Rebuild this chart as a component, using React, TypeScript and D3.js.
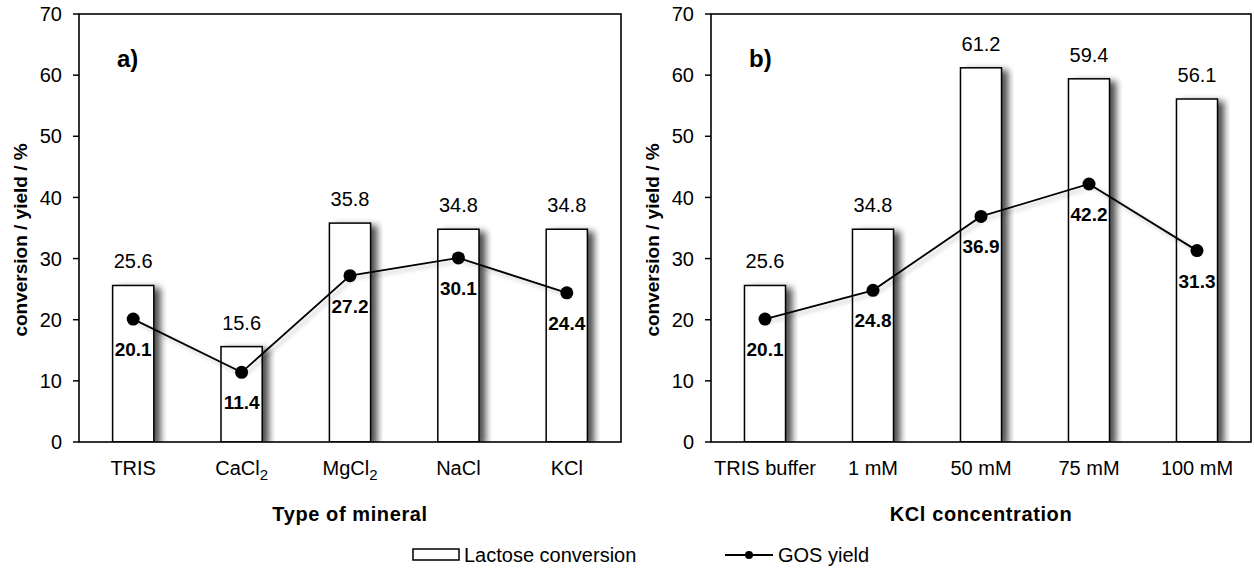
import React from "react";
import * as d3 from "d3";

// panel a) - type of mineral
const mineralLabels = ["TRIS", "CaCl_2", "MgCl_2", "NaCl", "KCl"];
const mineralConversion = [25.6, 15.6, 35.8, 34.8, 34.8];
const mineralYield = [20.1, 11.4, 27.2, 30.1, 24.4];

// panel b) - KCl concentration
const kclLabels = ["TRIS buffer", "1 mM", "50 mM", "75 mM", "100 mM"];
const kclConversion = [25.6, 34.8, 61.2, 59.4, 56.1];
const kclYield = [20.1, 24.8, 36.9, 42.2, 31.3];

const yTicks = [0, 10, 20, 30, 40, 50, 60, 70];

const FONT = "'Liberation Sans', Arial, sans-serif";
const TOP = 14;
const BOTTOM = 442;

type PanelProps = {
  id: string;
  left: number;
  right: number;
  tag: string;
  xTitle: string;
  cats: string[];
  conversion: number[];
  gos: number[];
};

const CatLabel = ({ label, x, y }: { label: string; x: number; y: number }) => {
  const [base, sub] = label.split("_");
  return (
    <text x={x} y={y} textAnchor="middle" fontSize={20}>
      {base}
      {sub && (
        <tspan fontSize={15} dy={5}>
          {sub}
        </tspan>
      )}
    </text>
  );
};

const Panel = ({ id, left, right, tag, xTitle, cats, conversion, gos }: PanelProps) => {
  const x = d3.scaleBand<string>().domain(cats).range([left, right]).padding(0);
  const y = d3.scaleLinear().domain([0, 70]).range([BOTTOM, TOP]);
  const barW = x.bandwidth() * 0.38;
  const cx = (c: string) => (x(c) as number) + x.bandwidth() / 2;

  const line = d3
    .line<number>()
    .x((_, i) => cx(cats[i]))
    .y((d) => y(d));

  const mid = (left + right) / 2;

  return (
    <g>
      <clipPath id={"clip-" + id}>
        <rect x={left} y={TOP} width={right - left} height={BOTTOM - TOP} />
      </clipPath>

      {/* bars */}
      <g clipPath={`url(#clip-${id})`}>
        {conversion.map((v, i) => (
          <rect
            key={"bar" + i}
            x={cx(cats[i]) - barW / 2}
            y={y(v)}
            width={barW}
            height={y(0) - y(v)}
            fill="#fff"
            stroke="#000"
            strokeWidth={1.5}
            filter="url(#barShadow)"
          />
        ))}
      </g>

      {/* frame */}
      <rect
        x={left}
        y={TOP}
        width={right - left}
        height={BOTTOM - TOP}
        fill="none"
        stroke="#000"
        strokeWidth={1.6}
      />

      {/* y axis */}
      {yTicks.map((t) => (
        <g key={"t" + t}>
          <line x1={left - 6} x2={left} y1={y(t)} y2={y(t)} stroke="#000" strokeWidth={1.5} />
          <text x={left - 17} y={y(t)} dy="0.36em" textAnchor="end" fontSize={20}>
            {t}
          </text>
        </g>
      ))}
      <text
        transform={`translate(${left - 52}, 240) rotate(-90)`}
        textAnchor="middle"
        fontSize={19}
        fontWeight="bold"
      >
        conversion / yield / %
      </text>

      {/* GOS line */}
      <path d={line(gos) || ""} fill="none" stroke="#000" strokeWidth={1.8} filter="url(#lineShadow)" />
      {gos.map((v, i) => (
        <circle key={"p" + i} cx={cx(cats[i])} cy={y(v)} r={6.5} fill="#000" />
      ))}

      {/* value labels */}
      {conversion.map((v, i) => (
        <text key={"cl" + i} x={cx(cats[i])} y={y(v) - 17} textAnchor="middle" fontSize={20}>
          {v.toFixed(1)}
        </text>
      ))}
      {gos.map((v, i) => (
        <text
          key={"gl" + i}
          x={cx(cats[i])}
          y={y(v) + 37}
          textAnchor="middle"
          fontSize={19}
          fontWeight="bold"
        >
          {v.toFixed(1)}
        </text>
      ))}

      {/* categories */}
      {cats.map((c) => (
        <CatLabel key={c} label={c} x={cx(c)} y={475} />
      ))}
      <text x={mid} y={521} textAnchor="middle" fontSize={20} fontWeight="bold" letterSpacing={0.6}>
        {xTitle}
      </text>

      <text x={left + 38} y={67} fontSize={24} fontWeight="bold">
        {tag}
      </text>
    </g>
  );
};

export default function App() {
  return (
    <svg
      width={1254}
      height={569}
      style={{ position: "absolute", left: 0, top: 0, background: "#fff" }}
      fontFamily={FONT}
    >
      <defs>
        <filter id="barShadow" x="-30%" y="-10%" width="160%" height="130%">
          <feGaussianBlur in="SourceAlpha" stdDeviation={3.5} />
          <feOffset dx={6} dy={3} result="off" />
          <feComponentTransfer>
            <feFuncA type="linear" slope={0.7} />
          </feComponentTransfer>
          <feMerge>
            <feMergeNode />
            <feMergeNode in="SourceGraphic" />
          </feMerge>
        </filter>
        <filter id="lineShadow" x="-10%" y="-20%" width="120%" height="140%">
          <feGaussianBlur in="SourceAlpha" stdDeviation={2} />
          <feOffset dx={3} dy={3} />
          <feComponentTransfer>
            <feFuncA type="linear" slope={0.25} />
          </feComponentTransfer>
          <feMerge>
            <feMergeNode />
            <feMergeNode in="SourceGraphic" />
          </feMerge>
        </filter>
      </defs>
      <rect width={1254} height={569} fill="#fff" />

      <Panel
        id="a"
        left={79}
        right={621}
        tag="a)"
        xTitle="Type of mineral"
        cats={mineralLabels}
        conversion={mineralConversion}
        gos={mineralYield}
      />
      <Panel
        id="b"
        left={711}
        right={1251}
        tag="b)"
        xTitle="KCl concentration"
        cats={kclLabels}
        conversion={kclConversion}
        gos={kclYield}
      />

      {/* legend */}
      <rect x={413} y={549} width={46} height={11} fill="#fff" stroke="#000" strokeWidth={1.5} />
      <text x={464} y={562} fontSize={20}>
        Lactose conversion
      </text>
      <line x1={725} x2={773} y1={555} y2={555} stroke="#000" strokeWidth={1.8} />
      <circle cx={749} cy={555} r={4} fill="#000" />
      <text x={778} y={562} fontSize={20}>
        GOS yield
      </text>
    </svg>
  );
}
